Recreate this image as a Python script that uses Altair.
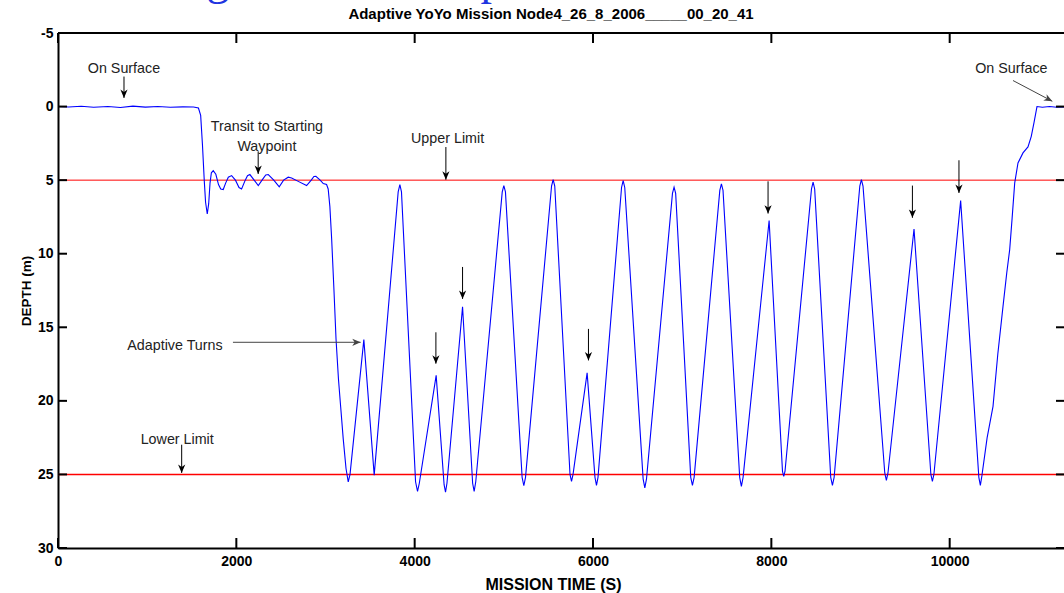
import altair as alt
import pandas as pd

# ---- depth record of the AUV, mission time (s) vs depth (m) ----
surface_t = [0, 120, 260, 400, 560, 700, 840, 980, 1120, 1260, 1400, 1520, 1575]
surface_d = [0.0, 0.03, -0.02, 0.05, 0.0, 0.06, -0.03, 0.04, 0.0, 0.05, 0.02, 0.03, 0.1]

transit_t = [1600, 1620, 1640, 1655, 1674, 1690, 1705, 1720, 1741, 1770, 1800, 1825, 1853,
             1880, 1910, 1947, 1990, 2030, 2059, 2100, 2125, 2152, 2200, 2246, 2300, 2330,
             2358, 2420, 2481, 2530, 2582, 2620, 2700, 2788, 2840, 2870, 2892, 2940, 2975, 3012]
transit_d = [0.6, 2.6, 5.0, 6.5, 7.3, 6.6, 5.2, 4.5, 4.35, 4.6, 5.3, 5.6, 5.64,
             5.2, 4.8, 4.69, 5.0, 5.5, 5.6, 5.0, 4.7, 4.62, 5.0, 5.37, 4.9, 4.65,
             4.62, 5.0, 5.46, 5.0, 4.8, 4.85, 5.1, 5.37, 5.0, 4.75, 4.74, 5.0, 5.23, 5.3]

yoyo_t = [3030, 3049, 3069, 3095, 3118, 3145, 3170, 3199, 3230, 3255, 3275,
          3430, 3546,
          3815, 3834, 3852, 4010, 4032, 4052, 4241, 4330, 4346, 4362, 4537,
          4650, 4667, 4685, 4982, 5000, 5018, 5205, 5224, 5243, 5535, 5553, 5571,
          5742, 5759, 5776, 5934, 6022, 6039, 6056, 6320, 6338, 6356,
          6562, 6581, 6600, 6891, 6909, 6927, 7096, 7115, 7134, 7422, 7440, 7458,
          7645, 7664, 7683, 7975, 8125, 8139, 8153, 8450, 8468, 8486,
          8666, 8685, 8704, 8992, 9010, 9028, 9272, 9290, 9308, 9600,
          9789, 9806, 9823, 10123, 10327, 10344, 10361]
yoyo_d = [5.6, 6.8, 9.0, 12.5, 15.8, 18.5, 20.4, 22.6, 24.6, 25.5, 25.0,
          15.84, 25.05,
          5.8, 5.3, 5.8, 25.5, 26.15, 25.6, 18.27, 25.7, 26.2, 25.6, 13.6,
          25.6, 26.15, 25.5, 5.8, 5.37, 5.8, 25.2, 25.77, 25.2, 5.4, 4.96, 5.4,
          25.0, 25.47, 25.0, 18.1, 25.2, 25.74, 25.2, 5.5, 5.03, 5.5,
          25.3, 25.92, 25.3, 5.9, 5.48, 5.9, 25.2, 25.74, 25.2, 5.7, 5.26, 5.7,
          25.2, 25.81, 25.2, 7.75, 24.8, 25.13, 24.8, 5.6, 5.14, 5.6,
          25.2, 25.74, 25.2, 5.4, 4.96, 5.4, 24.9, 25.4, 24.9, 8.32,
          25.0, 25.47, 25.0, 6.39, 25.2, 25.74, 25.1]

ascent_t = [10420, 10486, 10540, 10598, 10640, 10673, 10700, 10729, 10766, 10822, 10878,
            10915, 10945, 10979, 11040, 11120, 11200, 11282]
ascent_d = [22.5, 20.37, 16.8, 13.58, 11.3, 9.72, 7.6, 5.2, 3.83, 3.15, 2.74,
            2.02, 1.11, 0.0, 0.05, 0.0, 0.05, 0.03]

time_s = surface_t + transit_t + yoyo_t + ascent_t
depth_m = surface_d + transit_d + yoyo_d + ascent_d

limit_depth = [5, 25]
limit_width = [1, 1.6]

x_ticks = [0, 2000, 4000, 6000, 8000, 10000]
y_ticks = [-5, 0, 5, 10, 15, 20, 25, 30]

note_text = ["On Surface", "Transit to Starting", "Waypoint", "Upper Limit",
             "Adaptive Turns", "Lower Limit", "On Surface"]
note_t = [740, 2343, 2343, 4369, 1312, 1337, 10692]
note_d = [-2.52, 1.38, 2.74, 2.18, 16.3, 22.69, -2.58]

arrow_t1 = [740, 2245, 4350, 1962, 4238, 4537, 5949, 7963, 9582, 10104, 1387, 10710]
arrow_d1 = [-2.04, 3.04, 2.75, 16.02, 15.34, 10.9, 15.11, 5.08, 5.37, 3.65, 22.98, -1.77]
arrow_t2 = [740, 2245, 4350, 3394, 4238, 4537, 5949, 7963, 9582, 10104, 1387, 11151]
arrow_d2 = [-0.59, 4.58, 4.97, 16.02, 17.47, 13.07, 17.25, 7.27, 7.56, 5.87, 24.9, -0.36]
arrow_angle = [0, 0, 0, 270, 0, 0, 0, 0, 0, 0, 0, 297.8]
arrow_color = ["#000", "#000", "#000", "#444", "#000", "#000", "#000", "#000", "#000",
               "#000", "#000", "#444"]

TITLE = "Adaptive YoYo Mission Node4_26_8_2006_____00_20_41"

W, H = 1006, 515
T_MAX = 11282
FONT = "Liberation Sans"

xs = alt.Scale(domain=[0, T_MAX], nice=False, zero=False)
ys = alt.Scale(domain=[-5, 30], reverse=True, nice=False, zero=False)

# one axis definition shared by every layer so the merged axes keep their look
x_axis = alt.Axis(
    values=x_ticks, labelExpr="'' + datum.value", title="MISSION TIME (S)", grid=False,
    ticks=False, domain=True, domainColor="black", domainWidth=2, labelPadding=6,
    labelFlush=False,
    titleX=W / 2 - 8, titleY=36, titleBaseline="middle", titleFontSize=16)
y_axis = alt.Axis(
    values=y_ticks, labelExpr="'' + datum.value", title="DEPTH (m)", grid=False,
    ticks=False, domain=True, domainColor="black", domainWidth=2, labelPadding=5,
    labelFlush=False,
    titleX=-32, titleY=H / 2, titleBaseline="middle", titleAngle=270, titleFontSize=13.5)


def X(field):
    return alt.X(field, scale=xs, axis=x_axis)


def Y(field):
    return alt.Y(field, scale=ys, axis=y_axis)


track = pd.DataFrame({"t": time_s, "d": depth_m, "i": list(range(len(time_s)))})

trace = alt.Chart(track).mark_line(color="#0000ff", strokeWidth=1.1, clip=True).encode(
    x=X("t:Q"), y=Y("d:Q"), order="i:Q")

limits = alt.Chart(pd.DataFrame({"d": limit_depth, "w": limit_width})).mark_rule(
    color="#ff0000").encode(
    y=Y("d:Q"),
    strokeWidth=alt.StrokeWidth("w:Q", scale=None, legend=None),
)

ytick_df = pd.DataFrame({"d": y_ticks})
xtick_df = pd.DataFrame({"t": x_ticks})
tick_style = dict(color="black", strokeWidth=2)
left_ticks = alt.Chart(ytick_df).mark_rule(**tick_style).encode(
    y=Y("d:Q"), x=alt.value(0), x2=alt.value(9))
right_ticks = alt.Chart(ytick_df).mark_rule(**tick_style).encode(
    y=Y("d:Q"), x=alt.value(W - 8), x2=alt.value(W))
top_ticks = alt.Chart(xtick_df).mark_rule(**tick_style).encode(
    x=X("t:Q"), y=alt.value(0), y2=alt.value(10))
bottom_ticks = alt.Chart(xtick_df).mark_rule(**tick_style).encode(
    x=X("t:Q"), y=alt.value(H - 10), y2=alt.value(H))
top_spine = alt.Chart(pd.DataFrame({"a": [0]})).mark_rule(**tick_style).encode(
    x=alt.value(0), x2=alt.value(W), y=alt.value(0))

notes = alt.Chart(pd.DataFrame({"t": note_t, "d": note_d, "s": note_text})).mark_text(
    font=FONT, fontSize=14.3, color="#222222", baseline="middle").encode(
    x=X("t:Q"), y=Y("d:Q"), text="s:N")

arrows_df = pd.DataFrame({"t": arrow_t1, "d": arrow_d1, "t2": arrow_t2, "d2": arrow_d2,
                          "ang": arrow_angle, "c": arrow_color})
shafts = alt.Chart(arrows_df).mark_rule(strokeWidth=1).encode(
    x=X("t:Q"), y=Y("d:Q"), x2="t2:Q", y2="d2:Q",
    color=alt.Color("c:N", scale=None, legend=None))
heads = alt.Chart(arrows_df).mark_point(
    shape="M0,0 L-0.9,-2.1 L0,-1.5 L0.9,-2.1 Z", filled=True, size=64, opacity=1,
    strokeWidth=0).encode(
    x=X("t2:Q"), y=Y("d2:Q"),
    angle=alt.Angle("ang:Q", scale=None), color=alt.Color("c:N", scale=None, legend=None))

title = alt.Chart(pd.DataFrame({"s": [TITLE]})).mark_text(
    font=FONT, fontSize=15, fontWeight="bold", color="black", baseline="middle").encode(
    x=alt.value(W / 2 - 10), y=alt.value(-19), text="s:N")

# lower edge of the slide heading above the figure
heading = alt.Chart(pd.DataFrame({"s": ["g", "p"], "px": [160, 434]})).mark_text(
    font="Liberation Serif", fontSize=46, color="#1f35e0", baseline="alphabetic").encode(
    x=alt.X("px:Q", scale=None, axis=None), y=alt.value(-39), text="s:N")

chart = alt.layer(
    limits, trace, left_ticks, right_ticks, top_ticks, bottom_ticks, top_spine,
    shafts, heads, notes, title, heading,
).properties(
    width=W, height=H, autosize="none",
    padding={"left": 58, "top": 33, "right": 0, "bottom": 45},
    background="white",
).configure_view(stroke=None).configure_axis(
    labelFont=FONT, labelFontSize=14, labelFontWeight="bold", labelColor="black",
    titleFont=FONT, titleFontWeight="bold", titleColor="black",
)

chart.save("out.html", embed_options={"renderer": "svg", "actions": False})
